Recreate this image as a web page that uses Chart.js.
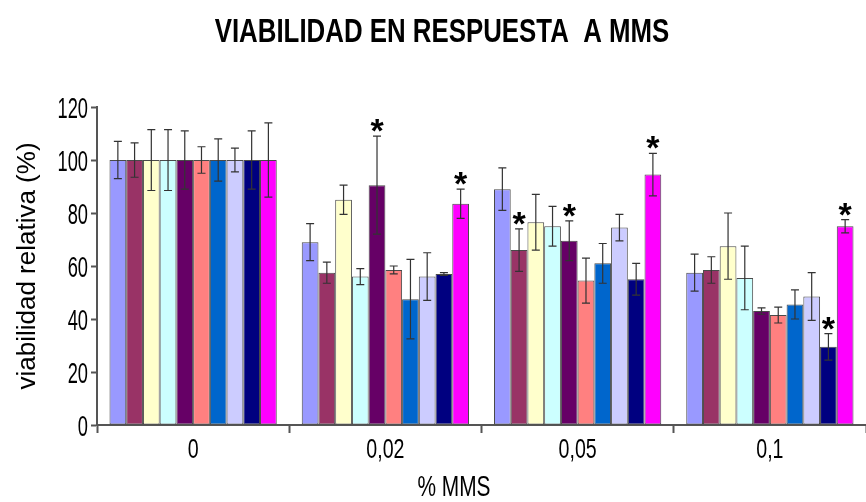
<!DOCTYPE html>
<html>
<head>
<meta charset="utf-8">
<script src="https://cdn.jsdelivr.net/npm/chart.js@4.4.1/dist/chart.umd.min.js"></script>
<style>
  html, body { margin: 0; padding: 0; background: #fff; }
</style>
</head>
<body>
<canvas id="myChart" width="866" height="502"></canvas>
<script>
// % MMS doses on the x axis
const doses = ['0', '0,02', '0,05', '0,1'];

// Mean relative viability (%) of the 10 strains at each dose
const dose0 = [100, 100, 100, 100, 100, 100, 100, 100, 100, 100];
const dose002 = [69, 57.5, 85, 56, 90.5, 58.5, 47.5, 56, 57, 83.5];
const dose005 = [89, 66, 76.5, 75, 69.5, 54.5, 61, 74.5, 55, 94.5];
const dose01 = [57.5, 58.5, 67.5, 55.5, 43, 41.5, 45.5, 48.5, 29.5, 75];

// Standard deviations, same order
const err0 = [7, 6.5, 11.5, 11.5, 11, 5, 8, 4.5, 11, 14];
const err002 = [7, 4, 5.5, 3, 18.5, 1.5, 15, 9, 0.5, 5.5];
const err005 = [8, 8, 10.5, 7.5, 7.5, 8.5, 7.5, 5, 6, 8];
const err01 = [7, 5, 12.5, 12, 1.2, 3, 5.5, 9, 5, 2.5];

// Significant differences: [dose index, strain index]
const significant = [[1, 4], [1, 9], [2, 1], [2, 4], [2, 9], [3, 8], [3, 9]];

const yTicks = [0, 20, 40, 60, 80, 100, 120];

const strainColors = ['#9999FF', '#993366', '#FFFFCC', '#CCFFFF', '#660066',
                      '#FF8080', '#0066CC', '#CCCCFF', '#000080', '#FF00FF'];

const chartTitle = 'VIABILIDAD EN RESPUESTA  A MMS';
const xTitle = '% MMS';
const yTitle = 'viabilidad relativa (%)';

const means = [dose0, dose002, dose005, dose01];
const errs = [err0, err002, err005, err01];

const sans = '"Liberation Sans", Arial, sans-serif';

// Build one dataset per strain
const datasets = strainColors.map((color, s) => ({
    label: 'Cepa ' + (s + 1),
    data: means.map(group => group[s]),
    errors: errs.map(group => group[s]),
    backgroundColor: color,
    borderColor: '#4a4a4a',
    borderWidth: 1,
    borderSkipped: false,
    categoryPercentage: 0.87,
    barPercentage: 1
}));

// Condensed text: squeeze horizontally around the anchor point
function narrowText(ctx, text, x, y, font, sx, align) {
    ctx.save();
    ctx.font = font;
    ctx.textAlign = align;
    ctx.textBaseline = 'alphabetic';
    ctx.translate(x, y);
    ctx.scale(sx, 1);
    ctx.fillText(text, 0, 0);
    ctx.restore();
}

// Draw error bars and asterisks on top of the bars
const errorBarPlugin = {
    id: 'errorBars',
    afterDatasetsDraw(chart) {
        const ctx = chart.ctx;
        const yScale = chart.scales.y;
        ctx.save();
        ctx.strokeStyle = '#333';
        ctx.lineWidth = 1.2;
        chart.data.datasets.forEach((ds, i) => {
            chart.getDatasetMeta(i).data.forEach((bar, j) => {
                const v = ds.data[j];
                const e = ds.errors[j];
                const top = yScale.getPixelForValue(v + e);
                const bot = yScale.getPixelForValue(v - e);
                ctx.beginPath();
                ctx.moveTo(bar.x, top);
                ctx.lineTo(bar.x, bot);
                ctx.moveTo(bar.x - 4, top);
                ctx.lineTo(bar.x + 4, top);
                ctx.moveTo(bar.x - 4, bot);
                ctx.lineTo(bar.x + 4, bot);
                ctx.stroke();
            });
        });

        ctx.fillStyle = '#000';
        ctx.font = 'bold 34px ' + sans;
        ctx.textAlign = 'center';
        ctx.textBaseline = 'alphabetic';
        significant.forEach(([g, s]) => {
            const ds = chart.data.datasets[s];
            const bar = chart.getDatasetMeta(s).data[g];
            const top = yScale.getPixelForValue(ds.data[g] + ds.errors[g]);
            ctx.fillText('*', bar.x, top + 6);
        });
        ctx.restore();
    }
};

// Title, tick labels and x title in a condensed face
const labelsPlugin = {
    id: 'narrowLabels',
    afterDraw(chart) {
        const ctx = chart.ctx;
        const area = chart.chartArea;
        const xScale = chart.scales.x;
        const yScale = chart.scales.y;
        ctx.save();
        ctx.fillStyle = '#000';

        narrowText(ctx, chartTitle, 442, 42, 'bold 34px ' + sans, 0.76, 'center');

        yTicks.forEach(v => {
            narrowText(ctx, String(v), area.left - 9, yScale.getPixelForValue(v) + 10.5,
                       '29px ' + sans, 0.63, 'right');
        });

        doses.forEach((d, i) => {
            narrowText(ctx, d, xScale.getPixelForTick(i), 458, '28px ' + sans, 0.7, 'center');
        });

        narrowText(ctx, xTitle, 454, 496, '29px ' + sans, 0.72, 'center');
        ctx.restore();
    }
};

const config = {
    type: 'bar',
    data: {
        labels: doses,
        datasets: datasets
    },
    options: {
        responsive: false,
        animation: false,
        layout: {
            padding: { left: 12, right: 0, top: 107, bottom: 69 }
        },
        plugins: {
            legend: { display: false },
            tooltip: { enabled: false },
            title: { display: false }
        },
        scales: {
            x: {
                grid: {
                    display: true,
                    offset: true,
                    drawOnChartArea: false,
                    tickLength: 8,
                    tickColor: '#555',
                    tickWidth: 2
                },
                border: { color: '#555', width: 2 },
                ticks: { display: false }
            },
            y: {
                min: 0,
                max: 120,
                afterBuildTicks: axis => {
                    axis.ticks = yTicks.map(v => ({ value: v }));
                },
                grid: {
                    display: true,
                    drawOnChartArea: false,
                    tickLength: 6,
                    tickColor: '#555',
                    tickWidth: 2
                },
                border: { color: '#555', width: 2 },
                ticks: { display: false },
                title: {
                    display: true,
                    text: yTitle,
                    color: '#000',
                    font: { family: sans, size: 26 },
                    padding: { top: 0, bottom: 47.8 }
                }
            }
        }
    },
    plugins: [errorBarPlugin, labelsPlugin]
};

const ctx = document.getElementById('myChart').getContext('2d');
new Chart(ctx, config);
</script>
</body>
</html>
